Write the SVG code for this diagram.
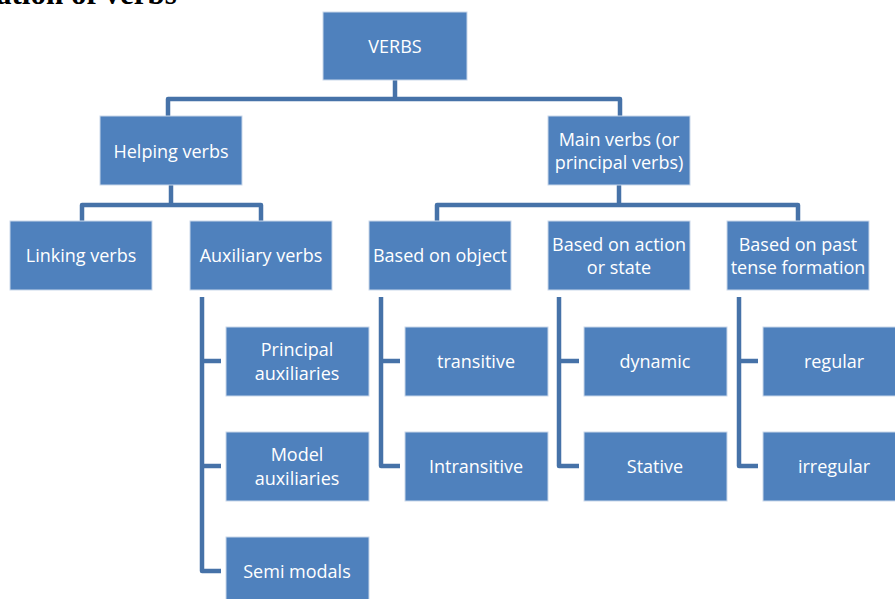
<svg xmlns="http://www.w3.org/2000/svg" width="895" height="599" viewBox="0 0 895 599">
<style>
.n rect{fill:#4F81BD;stroke:#C9D7EA;stroke-width:1}
.n text{fill:#FFFFFF;font-family:"Open Sans","Liberation Sans",sans-serif;font-size:18px;text-anchor:middle;dominant-baseline:central}
.c path{fill:none;stroke:#4672A8;stroke-width:4.5;stroke-linejoin:round;stroke-linecap:butt}
.t{font-family:"Liberation Serif",serif;font-weight:bold;font-size:31px;fill:#000}
</style>
<rect width="895" height="599" fill="#FFFFFF"/>
<text class="t" x="-4" y="4">ation of verbs</text>
<g class="c" id="connectors">
<path d="M395,80 V99"/>
<path d="M168,116 V99 H620 V116"/>
<path d="M171,185 V205"/>
<path d="M82,221 V205 H261 V221"/>
<path d="M619,185 V205"/>
<path d="M437,221 V205 H798 V221"/>
<path d="M202,297 V571 H221"/>
<path d="M202,361 H221"/>
<path d="M202,466 H221"/>
<path d="M381,297 V466 H400"/>
<path d="M381,361 H400"/>
<path d="M559,297 V466 H579"/>
<path d="M559,361 H579"/>
<path d="M739,297 V466 H758"/>
<path d="M739,361 H758"/>
</g>
<g class="n" id="verbs"><rect x="323" y="12" width="144" height="68"/><text x="395" y="46">VERBS</text></g>
<g class="n" id="helping"><rect x="100" y="116" width="142" height="69"/><text x="171" y="151">Helping verbs</text></g>
<g class="n" id="main"><rect x="548" y="116" width="142" height="69"/><text x="619" y="139">Main verbs (or</text><text x="619" y="162">principal verbs)</text></g>
<g class="n" id="linking"><rect x="10" y="221" width="142" height="69"/><text x="81" y="255">Linking verbs</text></g>
<g class="n" id="auxiliary"><rect x="190" y="221" width="142" height="69"/><text x="261" y="255">Auxiliary verbs</text></g>
<g class="n" id="object"><rect x="369" y="221" width="142" height="69"/><text x="440" y="255">Based on object</text></g>
<g class="n" id="action"><rect x="548" y="221" width="142" height="69"/><text x="619" y="244">Based on action</text><text x="619" y="267">or state</text></g>
<g class="n" id="past"><rect x="727" y="221" width="142" height="69"/><text x="798" y="244">Based on past</text><text x="798" y="267">tense formation</text></g>
<g class="n" id="principal"><rect x="226" y="327" width="143" height="69"/><text x="297" y="349">Principal</text><text x="297" y="373">auxiliaries</text></g>
<g class="n" id="model"><rect x="226" y="432" width="143" height="69"/><text x="297" y="454">Model</text><text x="297" y="478">auxiliaries</text></g>
<g class="n" id="semi"><rect x="226" y="537" width="143" height="69"/><text x="297" y="571">Semi modals</text></g>
<g class="n" id="transitive"><rect x="405" y="327" width="143" height="69"/><text x="476" y="361">transitive</text></g>
<g class="n" id="intransitive"><rect x="405" y="432" width="143" height="69"/><text x="476" y="466">Intransitive</text></g>
<g class="n" id="dynamic"><rect x="584" y="327" width="143" height="69"/><text x="655" y="361">dynamic</text></g>
<g class="n" id="stative"><rect x="584" y="432" width="143" height="69"/><text x="655" y="466">Stative</text></g>
<g class="n" id="regular"><rect x="763" y="327" width="143" height="69"/><text x="834" y="361">regular</text></g>
<g class="n" id="irregular"><rect x="763" y="432" width="143" height="69"/><text x="834" y="466">irregular</text></g>
</svg>
